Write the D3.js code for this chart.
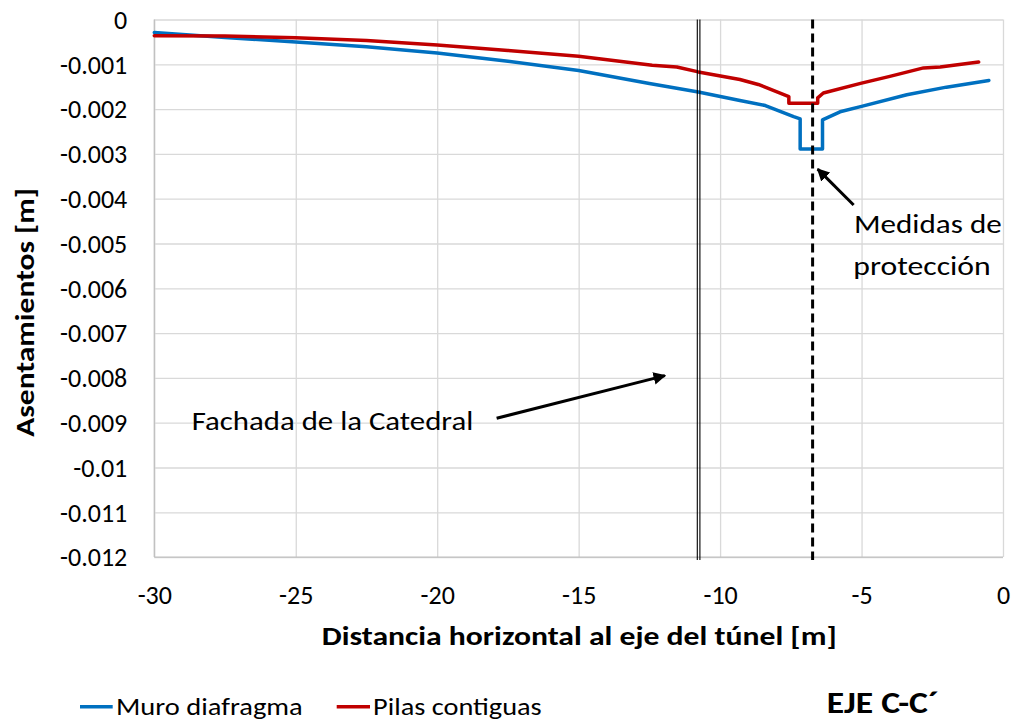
<!DOCTYPE html>
<html><head><meta charset="utf-8">
<script src="https://cdn.jsdelivr.net/npm/d3@7"></script>
<style>
html,body{margin:0;padding:0;background:#fff;}
text{font-family:Carlito,Calibri,Lato,"Open Sans",sans-serif;fill:#000;}
</style></head>
<body><svg id="c" width="1018" height="723"></svg>
<script>
// ---- data ----
const xTicks = [-30,-25,-20,-15,-10,-5,0];
const xTickLabels = ["-30","-25","-20","-15","-10","-5","0"];
const yTicks = [0,-0.001,-0.002,-0.003,-0.004,-0.005,-0.006,-0.007,-0.008,-0.009,-0.01,-0.011,-0.012];
const yTickLabels = ["0","-0.001","-0.002","-0.003","-0.004","-0.005","-0.006","-0.007","-0.008","-0.009","-0.01","-0.011","-0.012"];

const muroX = [-30,-27.5,-25,-22.5,-20,-17.5,-15,-12.5,-10.77,-9.3,-8.4,-7.4,-7.17,-7.17,-6.38,-6.38,-5.76,-5,-3.4,-2,-0.5];
const muroY = [-0.00029,-0.0004,-0.0005,-0.00061,-0.00075,-0.00093,-0.00114,-0.00143,-0.00162,-0.00181,-0.00192,-0.00217,-0.00222,-0.00289,-0.00289,-0.00224,-0.00206,-0.00194,-0.00168,-0.00151,-0.00136];

const pilasX = [-30,-27.5,-25,-22.5,-20,-17.5,-15,-12.4,-11.53,-10.77,-9.3,-8.65,-7.57,-7.57,-6.55,-6.55,-6.35,-5,-4,-2.81,-2.22,-0.86];
const pilasY = [-0.00036,-0.00037,-0.00041,-0.00047,-0.00057,-0.00069,-0.00082,-0.00102,-0.00106,-0.00117,-0.00134,-0.00145,-0.00172,-0.00187,-0.00187,-0.00175,-0.00164,-0.00142,-0.00127,-0.00108,-0.00106,-0.00095];

const seriesNames = ["Muro diafragma","Pilas contiguas"];
const seriesColors = ["#0070c0","#c00000"];

const facadeX = -10.76;      // Fachada de la Catedral (double line)
const protectionX = -6.73;   // Medidas de protección (dashed line)

const xTitle = "Distancia horizontal al eje del túnel [m]";
const yTitle = "Asentamientos [m]";
const caption = "EJE C-C\u00B4";

// ---- layout ----
const svg = d3.select("#c");
const L = 154.3, R = 1003, T = 19.5, B = 557.1;
const x = d3.scaleLinear().domain([-30,0]).range([L,R]);
const y = d3.scaleLinear().domain([0,-0.012]).range([T,B]);

// gridlines
const gx = svg.append("g").attr("transform",`translate(0,${B})`)
  .call(d3.axisBottom(x).tickValues(xTicks).tickSize(-(B-T)).tickFormat((d,i)=>xTickLabels[i]));
gx.select(".domain").remove();
gx.selectAll(".tick line").attr("stroke","#d9d9d9").attr("stroke-width",1.3);
gx.selectAll(".tick text").attr("font-size",26).attr("dy",0).attr("y",46.5);

const gy = svg.append("g").attr("transform",`translate(${L},0)`)
  .call(d3.axisLeft(y).tickValues(yTicks).tickSize(-(R-L)).tickFormat((d,i)=>yTickLabels[i]));
gy.select(".domain").remove();
gy.selectAll(".tick line").attr("stroke","#d9d9d9").attr("stroke-width",1.3);
gy.selectAll(".tick text").attr("font-size",26).attr("x",-27).attr("dy","0.34em").attr("text-anchor","end");

// axis lines
svg.append("line").attr("x1",L).attr("x2",L).attr("y1",T).attr("y2",B).attr("stroke","#bfbfbf").attr("stroke-width",1.3);
svg.append("line").attr("x1",L).attr("x2",R).attr("y1",B).attr("y2",B).attr("stroke","#bfbfbf").attr("stroke-width",1.3);

// series
const line = d3.line().x(d=>x(d[0])).y(d=>y(d[1]));
const series = [d3.zip(muroX,muroY), d3.zip(pilasX,pilasY)];
series.forEach((s,i)=>{
  svg.append("path").datum(s).attr("d",line).attr("fill","none")
    .attr("stroke",seriesColors[i]).attr("stroke-width",3.5)
    .attr("stroke-linejoin","round").attr("stroke-linecap","round");
});

// facade double line
[-1.3,1.3].forEach(o=>{
  svg.append("line").attr("x1",x(facadeX)+o).attr("x2",x(facadeX)+o)
    .attr("y1",T).attr("y2",B+3).attr("stroke","#000").attr("stroke-width",1.1);
});
// protection dashed line
svg.append("line").attr("x1",x(protectionX)).attr("x2",x(protectionX))
  .attr("y1",T).attr("y2",B+3).attr("stroke","#000").attr("stroke-width",3)
  .attr("stroke-dasharray","9,5");

// arrows
const defs = svg.append("defs");
defs.append("marker").attr("id","ah").attr("viewBox","0 0 10 10").attr("refX",9).attr("refY",5)
  .attr("markerWidth",4.2).attr("markerHeight",4.2).attr("orient","auto")
  .append("path").attr("d","M0,0 L10,5 L0,10 Z").attr("fill","#000");
const arrows = [
  {x1:-17.9,y1:-0.0089,x2:-11.95,y2:-0.00795},
  {x1:-5.28,y1:-0.00414,x2:-6.55,y2:-0.00334}
];
arrows.forEach(a=>{
  svg.append("line").attr("x1",x(a.x1)).attr("y1",y(a.y1)).attr("x2",x(a.x2)).attr("y2",y(a.y2))
    .attr("stroke","#000").attr("stroke-width",3).attr("marker-end","url(#ah)");
});

// annotation texts
svg.append("text").attr("x",191.7).attr("y",430).attr("font-size",26)
  .attr("textLength",281.6).attr("lengthAdjust","spacingAndGlyphs").text("Fachada de la Catedral");
svg.append("text").attr("x",854).attr("y",233.3).attr("font-size",26)
  .attr("textLength",147.7).attr("lengthAdjust","spacingAndGlyphs").text("Medidas de");
svg.append("text").attr("x",853.3).attr("y",275).attr("font-size",26)
  .attr("textLength",137.4).attr("lengthAdjust","spacingAndGlyphs").text("protección");

// axis titles
svg.append("text").attr("x",321.7).attr("y",645).attr("font-size",27).attr("font-weight","bold")
  .attr("textLength",515).attr("lengthAdjust","spacingAndGlyphs").text(xTitle);
svg.append("text").attr("transform","translate(33.5,436.7) rotate(-90)").attr("font-size",27)
  .attr("font-weight","bold").attr("textLength",248.7).attr("lengthAdjust","spacingAndGlyphs").text(yTitle);

// legend
const leg = [{x1:80,x2:112.7,tx:116,tw:186.7},{x1:336.7,x2:370,tx:373,tw:168.7}];
leg.forEach((l,i)=>{
  svg.append("line").attr("x1",l.x1).attr("x2",l.x2).attr("y1",706.7).attr("y2",706.7)
    .attr("stroke",seriesColors[i]).attr("stroke-width",3.5);
  svg.append("text").attr("x",l.tx).attr("y",715).attr("font-size",25.5)
    .attr("textLength",l.tw).attr("lengthAdjust","spacingAndGlyphs").text(seriesNames[i]);
});

// caption
svg.append("text").attr("x",826.7).attr("y",713.3).attr("font-size",31).attr("font-weight","bold")
  .attr("textLength",112).attr("lengthAdjust","spacingAndGlyphs").text(caption);
</script></body></html>
